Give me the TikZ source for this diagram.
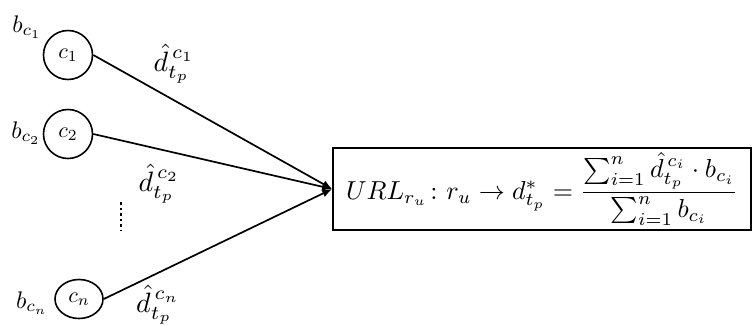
\documentclass[tikz,border=0pt]{standalone}
\usepackage{graphicx}
\usepackage{amsmath}
\usetikzlibrary{arrows.meta,shapes.geometric}
\newcommand{\szc}[1]{\scalebox{2.2}{#1}}
\newcommand{\szw}[1]{\scalebox{2.8}{#1}}
\newcommand{\szb}[1]{\scalebox{2.4}{#1}}
\newcommand{\szf}[1]{\scalebox{2.6}{#1}}
\begin{document}
\begin{tikzpicture}[x=1pt,y=-1pt,
  cnode/.style={draw,line width=1.6pt,ellipse,inner sep=0pt,minimum width=49pt,minimum height=49pt},
  conn/.style={line width=1.7pt,-{Latex[length=10pt,width=8pt]}},
  wlabel/.style={inner sep=0pt},
  blabel/.style={inner sep=0pt},
  fbox/.style={draw,line width=1.6pt,minimum width=418pt,minimum height=82pt,inner sep=0pt}]
\useasboundingbox (0,0) rectangle (755,325);
\node[cnode] (c1) at (68,55) {\szc{$c_1$}};
\node[cnode] (c2) at (68,134) {\szc{$c_2$}};
\node[cnode,minimum height=39pt,minimum width=48pt] (cn) at (79,299) {\szc{$c_n$}};
\node[fbox] (f) at (542,189) {\szf{$URL_{r_u}\colon r_u \rightarrow d^{*}_{t_p} = \dfrac{\textstyle\sum_{i=1}^{n}\hat{d}_{t_p}^{\,c_i}\cdot b_{c_i}}{\textstyle\sum_{i=1}^{n} b_{c_i}}$}};
\node[blabel] (b1) at (27,27) {\szb{$b_{c_1}$}};
\node[blabel] (b2) at (26,133) {\szb{$b_{c_2}$}};
\node[blabel] (bn) at (32,303) {\szb{$b_{c_n}$}};
\node[wlabel] (l1) at (174,64) {\szw{$\hat{d}_{t_p}^{\,c_1}$}};
\node[wlabel] (l2) at (159,184) {\szw{$\hat{d}_{t_p}^{\,c_2}$}};
\node[wlabel] (ln) at (158,305) {\szw{$\hat{d}_{t_p}^{\,c_n}$}};
\coordinate (d1) at (121,202);
\coordinate (d2) at (121,231);
\draw[line width=2.6pt,dash pattern=on 2.6pt off 3pt] (d1) -- (d2);
\draw[conn] (c1.east) -- (f.west);
\draw[conn] (c2.east) -- (f.west);
\draw[conn] (cn.east) -- (f.west);
\end{tikzpicture}
\end{document}
